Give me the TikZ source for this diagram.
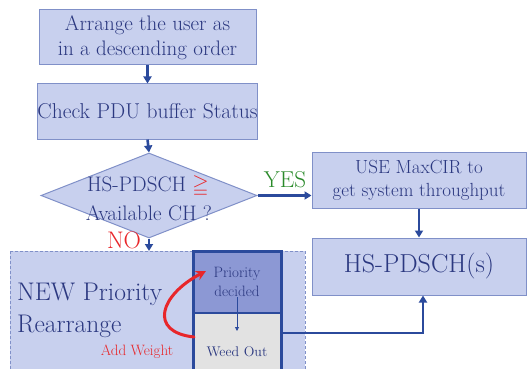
\documentclass[tikz,border=0pt]{standalone}
\usepackage{amssymb}
\usepackage{fontspec}
\usetikzlibrary{arrows.meta,shapes.geometric}
\definecolor{boxfill}{HTML}{C8D0EE}
\definecolor{boxline}{HTML}{8090C8}
\definecolor{txtblue}{HTML}{2B3880}
\definecolor{arrblue}{HTML}{2B4A9C}
\definecolor{darkfill}{HTML}{8C98D4}
\definecolor{greyfill}{HTML}{E2E2E2}
\definecolor{yesgreen}{HTML}{2A8A2A}
\definecolor{nored}{HTML}{E8262A}
\tikzset{
  x=1pt, y=-1pt,
  stepbox/.style={draw=boxline, fill=boxfill, line width=1pt, inner sep=0pt,
    text=txtblue, align=center},
  flow/.style={draw=arrblue, line width=2.6pt, -{Triangle[length=7pt,width=8pt]}},
  lbl/.style={inner sep=0pt, text=txtblue, align=center}
}
\begin{document}
\begin{tikzpicture}
\useasboundingbox (0,0) rectangle (528,369);
\clip (0,0) rectangle (528,369);

% main column
\node[stepbox, minimum width=217pt, minimum height=55pt, font=\fontsize{21}{25}\selectfont]
  (arrange) at (147.5,37.5) {Arrange the user as\\in a descending order};
\node[stepbox, minimum width=217pt, minimum height=55pt, font=\fontsize{21.5}{24}\selectfont]
  (check) at (147.5,111.5) {Check PDU buffer Status};
\node[diamond, draw=boxline, fill=boxfill, line width=1pt, inner sep=0pt,
  minimum width=216pt, minimum height=85pt] (decide) at (149,195.5) {};
\node[lbl, font=\fontsize{21}{23}\selectfont] (cond1) at (148,186)
  {HS-PDSCH \textcolor{nored}{$\geqq$}};
\node[lbl, font=\fontsize{21}{23}\selectfont] (cond2) at (149,213) {Available CH ?};

% right column
\node[stepbox, minimum width=214pt, minimum height=56pt, font=\fontsize{19}{23}\selectfont]
  (maxcir) at (419,180) {USE MaxCIR to\\get system throughput};
\node[stepbox, minimum width=214pt, minimum height=57pt, font=\fontsize{26}{29}\selectfont]
  (hspdsch) at (419,266.5) {HS-PDSCH(s)};

% rearrangement block
\path[fill=boxfill, draw=boxline, line width=0.8pt, dash pattern=on 3pt off 2pt]
  (10,251) rectangle (305,380);
\node[lbl, align=left, anchor=west, font=\fontsize{25.5}{32}\selectfont] (newprio) at (17,310)
  {NEW Priority\\Rearrange};
\node[fill=darkfill, minimum width=88pt, minimum height=62pt, inner sep=0pt,
  text=txtblue, align=center, font=\fontsize{15}{19}\selectfont] (prio) at (237,282)
  {Priority\\decided};
\node[fill=greyfill, minimum width=88pt, minimum height=60pt, inner sep=0pt] (weed) at (237,343) {};
\node[lbl, font=\fontsize{14}{16}\selectfont] (weedtxt) at (237,352) {Weed Out};
\draw[arrblue, line width=3pt] (193,251) rectangle (281,380);
\draw[arrblue, line width=2pt] (193,313) -- (281,313);
\draw[arrblue, line width=0.8pt, -{Triangle[length=4pt,width=4pt]}]
  (237,297) -- (237,331);

\node[inner sep=0pt, text=nored, font=\fontsize{15}{16}\selectfont] (addw) at (137,352)
  {Add Weight};
\coordinate (redstart) at (194,337);
\coordinate (redend) at (206,271);
\draw[nored, line width=3pt, line cap=round, -{Stealth[length=10pt,width=10pt]}]
  (redstart) .. controls (148,332) and (160,295) .. (redend);

% labels
\node[inner sep=0pt, text=yesgreen, font=\fontsize{23}{26}\selectfont] (yes) at (285,180) {YES};
\node[inner sep=0pt, text=nored, font=\fontsize{24}{26}\selectfont] (no) at (124,240) {NO};

% connectors
\draw[flow] (arrange.south) -- (check.north);
\draw[flow] (check.south) -- (decide.north);
\draw[flow] (decide.east) -- (maxcir.west |- decide.east);
\draw[flow] (decide.south) -- (149,251);
\draw[flow] (maxcir.south) -- (hspdsch.north);
\coordinate (bend) at (423,333);
\draw[flow] (281,333) -- (bend) -- (hspdsch.south -| bend);
\end{tikzpicture}
\end{document}
